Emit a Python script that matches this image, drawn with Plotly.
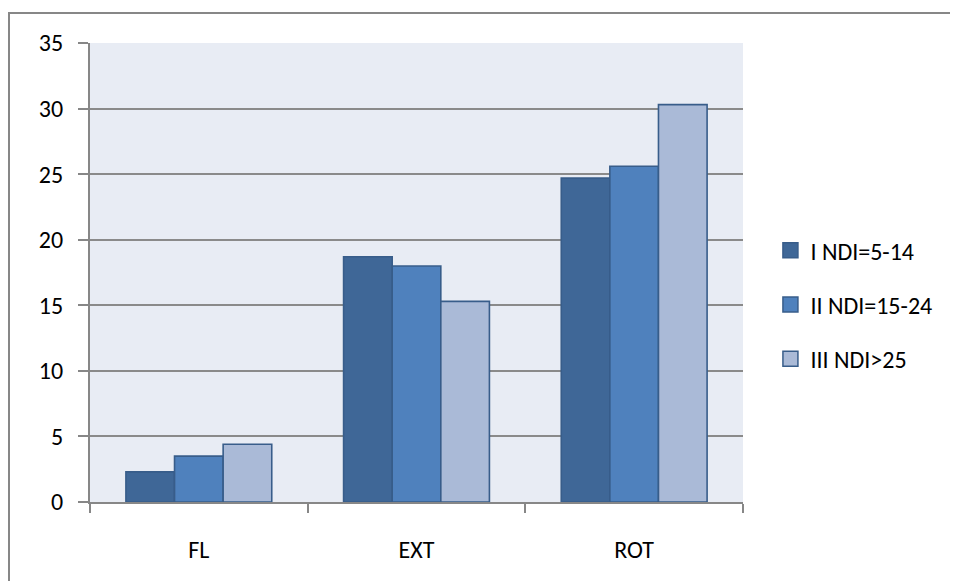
import plotly.graph_objects as go

categories = ["FL", "EXT", "ROT"]
series_names = ["I NDI=5-14", "II NDI=15-24", "III NDI>25"]
values_I = [2.3, 18.7, 24.7]
values_II = [3.5, 18.0, 25.6]
values_III = [4.4, 15.3, 30.3]
y_ticks = [0, 5, 10, 15, 20, 25, 30, 35]

colors = ["#3F6797", "#4F81BD", "#AABAD7"]
outline = "#385D8A"
font_family = "Carlito, Calibri, 'Open Sans', sans-serif"

fig = go.Figure()
for i, (name, vals) in enumerate(zip(series_names, [values_I, values_II, values_III])):
    fig.add_trace(go.Bar(
        x=categories, y=vals, name=name,
        marker=dict(color=colors[i], line=dict(color=outline, width=1.6)),
        showlegend=False,
    ))
# legend entries with larger square swatches
for i, name in enumerate(series_names):
    fig.add_trace(go.Scatter(
        x=[None], y=[None], mode="markers", name=name,
        marker=dict(symbol="square", size=15, color=colors[i], line=dict(color=outline, width=1.5)),
        legendgroup=f"g{i}", showlegend=True,
    ))

# page body has an 8px margin, so the figure is sized/offset to compensate
W, H = 950, 573
L, T, R, B = 82, 35, 215, 79

fig.update_layout(
    width=W, height=H,
    margin=dict(l=L, r=R, t=T, b=B),
    paper_bgcolor="white",
    plot_bgcolor="#E8ECF4",
    barmode="group",
    bargap=0.33, bargroupgap=0,
    font=dict(family=font_family, size=24, color="black"),
    showlegend=True,
    legend=dict(
        x=1.042, xanchor="left", y=0.43, yanchor="middle",
        traceorder="grouped", tracegroupgap=20,
        font=dict(size=24), itemwidth=30, itemsizing="trace",
        bgcolor="rgba(0,0,0,0)",
    ),
    xaxis=dict(
        showgrid=False, showline=True, linecolor="#878787", linewidth=2,
        ticks="outside", tickson="boundaries", ticklen=9, tickwidth=2, tickcolor="#878787",
        ticklabelstandoff=25, zeroline=False,
    ),
    yaxis=dict(
        range=[0, 35], tickvals=y_ticks,
        showgrid=True, gridcolor="#8A8A8A", gridwidth=2,
        showline=True, linecolor="#878787", linewidth=2,
        ticks="outside", ticklen=10, tickwidth=2, tickcolor="#878787",
        ticklabelstandoff=10, zeroline=False,
    ),
)

pw = W - L - R
ph = H - T - B
# outer chart border (only top and left visible in the reference)
fig.add_shape(type="rect", xref="paper", yref="paper",
              x0=(1 - L) / pw, x1=(W + 20 - L) / pw,
              y0=-(B + 20) / ph, y1=(H - B - 5) / ph,
              line=dict(color="#878787", width=2), fillcolor="rgba(0,0,0,0)", layer="below")

fig.write_html("out.html")
